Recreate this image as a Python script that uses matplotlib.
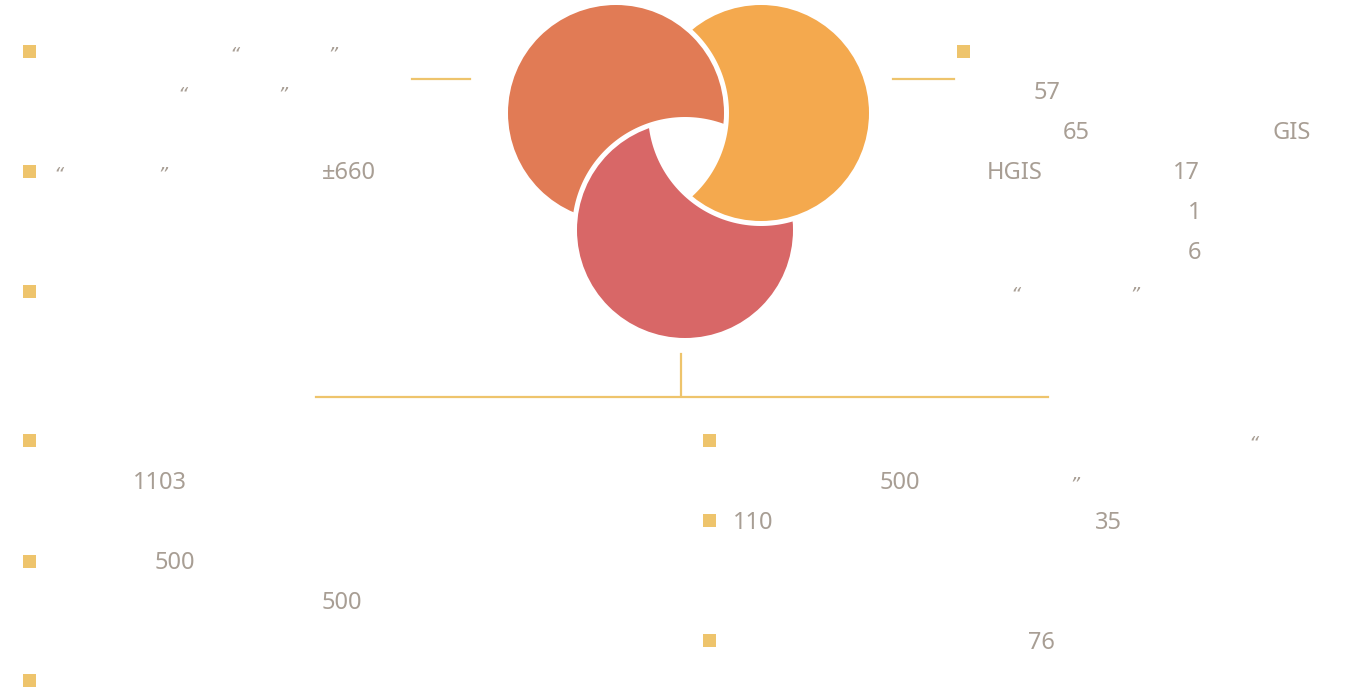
import numpy as np
import matplotlib.pyplot as plt
from matplotlib.patches import Circle, Rectangle
from matplotlib.path import Path

plt.rcParams['font.family'] = ['Noto Sans', 'Noto Sans CJK SC', 'DejaVu Sans']

# 三个交错的圆（像素坐标）
circle_names = ['A', 'B', 'C']
circle_colors = ['#E17B55', '#F4A94E', '#D86767']
circle_cx = [616, 761, 685]
circle_cy = [113, 113, 230]
radius = 108
gap = 5

# 文字（中文在原图中未显示，只保留可见的字符）
labels = ['57', '65', 'GIS', 'HGIS', '17', '1', '6',
          '±660', '1103', '500', '500', '500', '110', '35', '76',
          '“', '”', '“', '”', '“', '”', '“', '”', '“', '”']
label_x = [1034, 1063, 1273, 987, 1173, 1188, 1188,
           322, 133, 155, 322, 880, 733, 1095, 1028,
           229, 327, 177, 277, 53, 157, 1010, 1129, 1248, 1069]
label_row = [91, 131, 131, 171, 171, 211, 251,
             171, 481, 561, 601, 481, 521, 521, 641,
             51, 51, 91, 91, 171, 171, 291, 291, 440, 481]

bullet_x = [29, 29, 29, 29, 29, 29, 963, 709, 709, 709]
bullet_y = [51, 171, 291, 440, 561, 680, 51, 440, 520, 640]

W, H = 1351, 691
fig = plt.figure(figsize=(W / 100, H / 100), dpi=100)
ax = fig.add_axes([0, 0, 1, 1])
ax.set_xlim(0, W)
ax.set_ylim(H, 0)
ax.axis('off')

gold = '#EEC46C'
grey = '#A89E94'

def hole_path(cx, cy, r):
    # 大矩形减去一个圆（反向绕行），用作裁剪
    t = np.linspace(0, 2 * np.pi, 240)
    circ = np.column_stack([cx + r * np.cos(t), cy - r * np.sin(t)])
    rect = np.array([[-50, -50], [W + 50, -50], [W + 50, H + 50], [-50, H + 50], [-50, -50]])
    verts = np.vstack([rect, circ])
    codes = ([Path.MOVETO] + [Path.LINETO] * 3 + [Path.CLOSEPOLY] +
             [Path.MOVETO] + [Path.LINETO] * (len(circ) - 2) + [Path.CLOSEPOLY])
    return Path(verts, codes)

# 每个圆被下一个圆（稍放大）切掉：A被C切，B被A切，C被B切
cut_by = [2, 0, 1]
for i in range(3):
    c = Circle((circle_cx[i], circle_cy[i]), radius, fc=circle_colors[i], ec='none')
    ax.add_patch(c)
    j = cut_by[i]
    c.set_clip_path(hole_path(circle_cx[j], circle_cy[j], radius + gap), ax.transData)

# 连接线
ax.plot([412, 470], [79, 79], color=gold, lw=1.6)
ax.plot([893, 954], [79, 79], color=gold, lw=1.6)
ax.plot([681, 681], [354, 396], color=gold, lw=1.6)
ax.plot([316, 1048], [397, 397], color=gold, lw=1.6)

# 方块标记
for x, y in zip(bullet_x, bullet_y):
    ax.add_patch(Rectangle((x - 6.5, y - 6.5), 13, 13, fc=gold, ec='none'))

for s, x, y in zip(labels, label_x, label_row):
    if s in ('“', '”'):
        ax.text(x, y + 9, s, fontsize=14, color=grey, ha='left', va='baseline',
                style='italic', family='DejaVu Sans')
    else:
        ax.text(x, y + 8, s, fontsize=17, color=grey, ha='left', va='baseline')

fig.savefig('out.png', dpi=100)
